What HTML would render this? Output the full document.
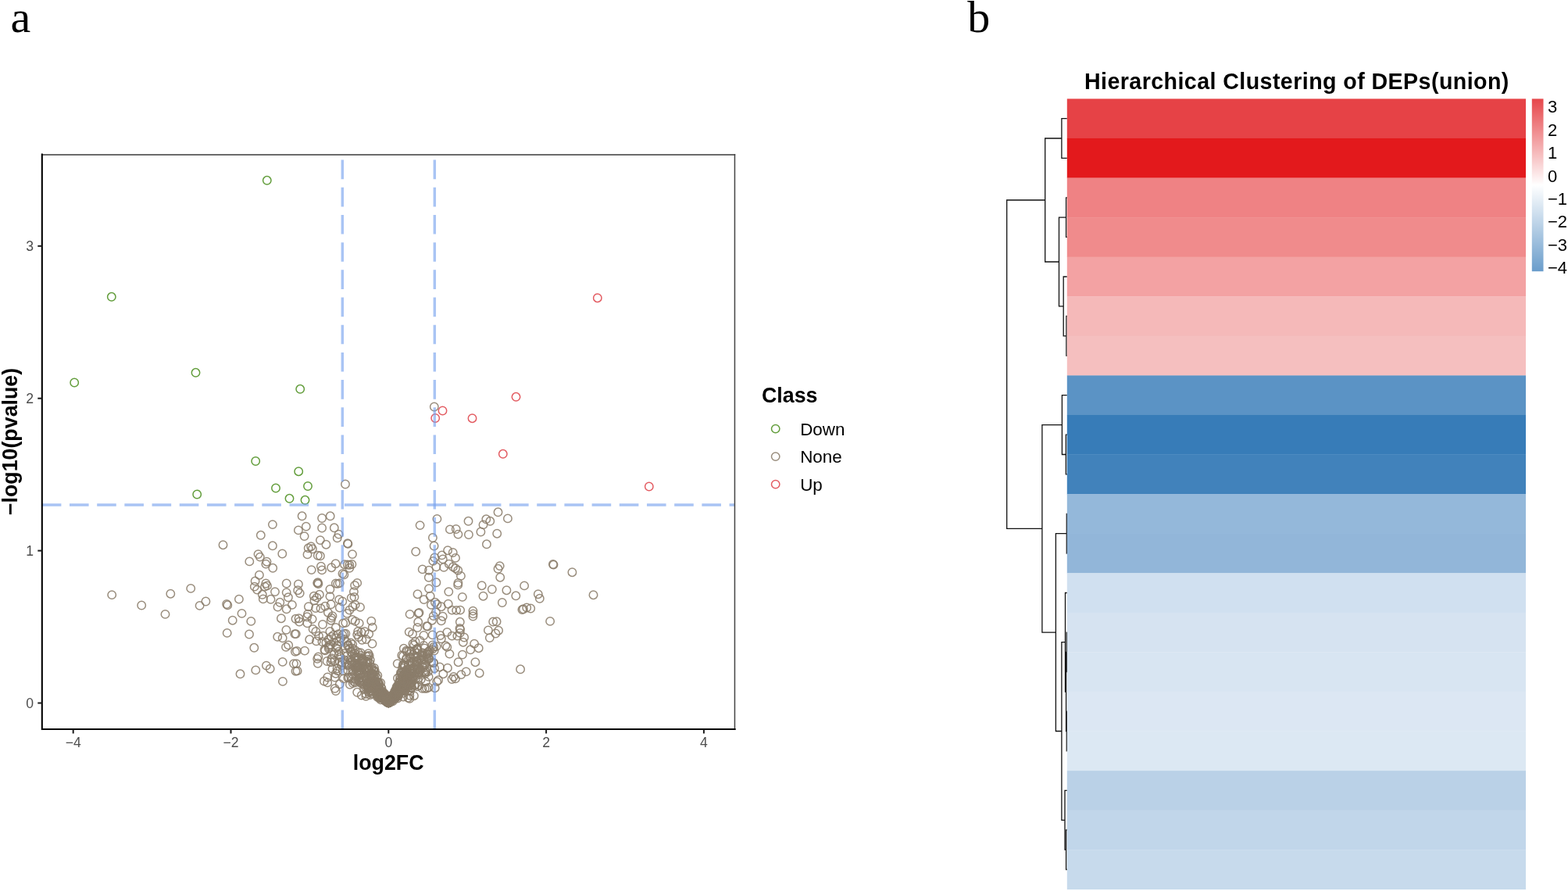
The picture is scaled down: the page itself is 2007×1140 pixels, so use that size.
<!DOCTYPE html>
<html lang="en">
<head>
<meta charset="utf-8">
<title>Volcano plot and hierarchical clustering of DEPs</title>
<style>
html,body{margin:0;padding:0;background:#fff;}
body{width:2007px;height:1140px;overflow:hidden;}
svg{display:block;}
text{font-family:"Liberation Sans",Arial,Helvetica,sans-serif;}
.serif{font-family:"Liberation Serif","Times New Roman",serif;}
.tick{font-size:17.6px;fill:#4d4d4d;}
.axt{font-size:26.8px;font-weight:bold;fill:#000;}
.leg{font-size:22.4px;fill:#000;}
.cb{font-size:22px;fill:#000;}
.p circle{fill:none;stroke-width:1.5;stroke-opacity:0.88;}
</style>
</head>
<body>
<svg width="2007" height="1140" viewBox="0 0 2007 1140">
<rect x="0" y="0" width="2007" height="1140" fill="#fff"/>
<text class="serif" x="13.4" y="41.3" font-size="58">a</text>
<text class="serif" x="1238.3" y="41.2" font-size="58">b</text>
<g id="volcano">
<g class="p" id="pts-none" stroke="#8b7d6b">
<circle cx="456.5" cy="859.4" r="5.2"/><circle cx="502.6" cy="892.7" r="5.2"/><circle cx="502.6" cy="894.6" r="5.2"/><circle cx="507.1" cy="892.1" r="5.2"/><circle cx="496.2" cy="898" r="5.2"/><circle cx="499.6" cy="896.6" r="5.2"/>
<circle cx="485.5" cy="882.5" r="5.2"/><circle cx="471.7" cy="885.2" r="5.2"/><circle cx="492.9" cy="893.3" r="5.2"/><circle cx="472.6" cy="878" r="5.2"/><circle cx="537.4" cy="857.8" r="5.2"/><circle cx="502.5" cy="892.8" r="5.2"/>
<circle cx="532.4" cy="868" r="5.2"/><circle cx="513.6" cy="883.3" r="5.2"/><circle cx="475.1" cy="873.1" r="5.2"/><circle cx="483.8" cy="879.3" r="5.2"/><circle cx="497.2" cy="899.4" r="5.2"/><circle cx="530.5" cy="832.6" r="5.2"/>
<circle cx="496.3" cy="898.5" r="5.2"/><circle cx="459.2" cy="840.7" r="5.2"/><circle cx="515" cy="864.8" r="5.2"/><circle cx="493.3" cy="894.8" r="5.2"/><circle cx="477.1" cy="862.7" r="5.2"/><circle cx="475.1" cy="883.5" r="5.2"/>
<circle cx="468.3" cy="887.7" r="5.2"/><circle cx="463.7" cy="845.7" r="5.2"/><circle cx="493.4" cy="894" r="5.2"/><circle cx="517.1" cy="859.5" r="5.2"/><circle cx="480.2" cy="863.1" r="5.2"/><circle cx="542.8" cy="860.5" r="5.2"/>
<circle cx="454.2" cy="848.2" r="5.2"/><circle cx="502.1" cy="895.9" r="5.2"/><circle cx="445" cy="851.3" r="5.2"/><circle cx="493.9" cy="897.1" r="5.2"/><circle cx="503.6" cy="891.9" r="5.2"/><circle cx="496.7" cy="898.5" r="5.2"/>
<circle cx="521.4" cy="856.8" r="5.2"/><circle cx="510.5" cy="876.3" r="5.2"/><circle cx="533.6" cy="845.7" r="5.2"/><circle cx="525.1" cy="874.6" r="5.2"/><circle cx="490.3" cy="892.1" r="5.2"/><circle cx="502.4" cy="891.7" r="5.2"/>
<circle cx="506.6" cy="885.9" r="5.2"/><circle cx="524.9" cy="884.4" r="5.2"/><circle cx="435.6" cy="840.4" r="5.2"/><circle cx="466" cy="881.9" r="5.2"/><circle cx="495.7" cy="897.7" r="5.2"/><circle cx="501.9" cy="892.3" r="5.2"/>
<circle cx="544.6" cy="859.4" r="5.2"/><circle cx="525" cy="874.3" r="5.2"/><circle cx="451.5" cy="856.3" r="5.2"/><circle cx="480" cy="869" r="5.2"/><circle cx="522.9" cy="849.6" r="5.2"/><circle cx="534.6" cy="849.2" r="5.2"/>
<circle cx="484.6" cy="873.6" r="5.2"/><circle cx="522.8" cy="863.7" r="5.2"/><circle cx="468.9" cy="855.4" r="5.2"/><circle cx="470.7" cy="843.7" r="5.2"/><circle cx="505.9" cy="889.6" r="5.2"/><circle cx="506.6" cy="888.7" r="5.2"/>
<circle cx="489" cy="892.9" r="5.2"/><circle cx="527.4" cy="867.8" r="5.2"/><circle cx="527.7" cy="866.2" r="5.2"/><circle cx="540.5" cy="835.2" r="5.2"/><circle cx="476.6" cy="865.9" r="5.2"/><circle cx="498.4" cy="898.6" r="5.2"/>
<circle cx="506.3" cy="890.5" r="5.2"/><circle cx="495.2" cy="897.1" r="5.2"/><circle cx="448.9" cy="822.4" r="5.2"/><circle cx="489.9" cy="892.6" r="5.2"/><circle cx="470.7" cy="847.3" r="5.2"/><circle cx="515.7" cy="872.4" r="5.2"/>
<circle cx="515.5" cy="882.6" r="5.2"/><circle cx="478.6" cy="863.6" r="5.2"/><circle cx="474.6" cy="863.7" r="5.2"/><circle cx="525.4" cy="869.5" r="5.2"/><circle cx="518.8" cy="876.7" r="5.2"/><circle cx="438.3" cy="812.4" r="5.2"/>
<circle cx="518.3" cy="883.4" r="5.2"/><circle cx="466.1" cy="870.4" r="5.2"/><circle cx="508.4" cy="880.1" r="5.2"/><circle cx="464.1" cy="846.2" r="5.2"/><circle cx="494.3" cy="897.6" r="5.2"/><circle cx="544.6" cy="837.7" r="5.2"/>
<circle cx="446.9" cy="850.8" r="5.2"/><circle cx="525.9" cy="871.4" r="5.2"/><circle cx="445.2" cy="867.2" r="5.2"/><circle cx="471.2" cy="880.7" r="5.2"/><circle cx="451.3" cy="836.7" r="5.2"/><circle cx="485.6" cy="882.2" r="5.2"/>
<circle cx="488.4" cy="880.5" r="5.2"/><circle cx="441.3" cy="844.5" r="5.2"/><circle cx="520.8" cy="876.2" r="5.2"/><circle cx="491.9" cy="893.3" r="5.2"/><circle cx="474.5" cy="865.6" r="5.2"/><circle cx="521.4" cy="867.8" r="5.2"/>
<circle cx="536.9" cy="843.6" r="5.2"/><circle cx="445.4" cy="858.1" r="5.2"/><circle cx="463.1" cy="871.1" r="5.2"/><circle cx="437.1" cy="851.3" r="5.2"/><circle cx="483.6" cy="872.6" r="5.2"/><circle cx="538.1" cy="857" r="5.2"/>
<circle cx="456.9" cy="850.8" r="5.2"/><circle cx="460.5" cy="862.6" r="5.2"/><circle cx="488" cy="884.2" r="5.2"/><circle cx="485.2" cy="893.1" r="5.2"/><circle cx="513" cy="884.8" r="5.2"/><circle cx="460.3" cy="858.5" r="5.2"/>
<circle cx="471" cy="873.6" r="5.2"/><circle cx="501.1" cy="895.8" r="5.2"/><circle cx="436.4" cy="816.4" r="5.2"/><circle cx="555.1" cy="847.9" r="5.2"/><circle cx="460" cy="867.3" r="5.2"/><circle cx="501.8" cy="894.7" r="5.2"/>
<circle cx="515.1" cy="868.9" r="5.2"/><circle cx="507.5" cy="885.5" r="5.2"/><circle cx="523.6" cy="865.1" r="5.2"/><circle cx="498.8" cy="898.2" r="5.2"/><circle cx="500.5" cy="893.7" r="5.2"/><circle cx="531.3" cy="876.9" r="5.2"/>
<circle cx="508" cy="878.3" r="5.2"/><circle cx="441" cy="817.9" r="5.2"/><circle cx="500.6" cy="896.1" r="5.2"/><circle cx="495" cy="897.4" r="5.2"/><circle cx="546.8" cy="837" r="5.2"/><circle cx="515.8" cy="851.7" r="5.2"/>
<circle cx="458.3" cy="870" r="5.2"/><circle cx="444.8" cy="825.8" r="5.2"/><circle cx="521.7" cy="863.7" r="5.2"/><circle cx="500.9" cy="893.5" r="5.2"/><circle cx="487.2" cy="873.6" r="5.2"/><circle cx="522.2" cy="883.7" r="5.2"/>
<circle cx="534.4" cy="839.9" r="5.2"/><circle cx="500" cy="896.7" r="5.2"/><circle cx="481.1" cy="878.9" r="5.2"/><circle cx="509.3" cy="888.3" r="5.2"/><circle cx="460.7" cy="862.9" r="5.2"/><circle cx="466.1" cy="876.1" r="5.2"/>
<circle cx="503.1" cy="894.9" r="5.2"/><circle cx="558.6" cy="827.1" r="5.2"/><circle cx="516.1" cy="839.3" r="5.2"/><circle cx="468.9" cy="839.8" r="5.2"/><circle cx="529.7" cy="864.6" r="5.2"/><circle cx="426.9" cy="812.5" r="5.2"/>
<circle cx="528.4" cy="823.7" r="5.2"/><circle cx="522.5" cy="871.3" r="5.2"/><circle cx="455.1" cy="841.9" r="5.2"/><circle cx="542.5" cy="842.8" r="5.2"/><circle cx="533.9" cy="847.8" r="5.2"/><circle cx="468.5" cy="849" r="5.2"/>
<circle cx="490" cy="892.3" r="5.2"/><circle cx="505" cy="892.3" r="5.2"/><circle cx="492.7" cy="892.2" r="5.2"/><circle cx="516.5" cy="876.1" r="5.2"/><circle cx="515.6" cy="869.2" r="5.2"/><circle cx="490.7" cy="888.4" r="5.2"/>
<circle cx="505.1" cy="884.5" r="5.2"/><circle cx="478.6" cy="873.1" r="5.2"/><circle cx="449.6" cy="846.6" r="5.2"/><circle cx="483.2" cy="886" r="5.2"/><circle cx="520.8" cy="863.2" r="5.2"/><circle cx="457" cy="841.5" r="5.2"/>
<circle cx="484.4" cy="876" r="5.2"/><circle cx="483.8" cy="884.8" r="5.2"/><circle cx="447.6" cy="829.7" r="5.2"/><circle cx="490.6" cy="885.8" r="5.2"/><circle cx="498.5" cy="898.6" r="5.2"/><circle cx="555.1" cy="827.8" r="5.2"/>
<circle cx="500.6" cy="895.5" r="5.2"/><circle cx="469.5" cy="877.1" r="5.2"/><circle cx="491.1" cy="887.8" r="5.2"/><circle cx="462.9" cy="846.3" r="5.2"/><circle cx="454.3" cy="848.9" r="5.2"/><circle cx="531.3" cy="856.5" r="5.2"/>
<circle cx="471.6" cy="881" r="5.2"/><circle cx="533.7" cy="830.1" r="5.2"/><circle cx="486.4" cy="882.4" r="5.2"/><circle cx="466.2" cy="855.5" r="5.2"/><circle cx="506.3" cy="886.4" r="5.2"/><circle cx="424.6" cy="844" r="5.2"/>
<circle cx="536" cy="861.2" r="5.2"/><circle cx="522.6" cy="866.2" r="5.2"/><circle cx="489.9" cy="893.5" r="5.2"/><circle cx="488.2" cy="887" r="5.2"/><circle cx="506.5" cy="882.9" r="5.2"/><circle cx="520.4" cy="842" r="5.2"/>
<circle cx="515" cy="854.9" r="5.2"/><circle cx="521.8" cy="875.8" r="5.2"/><circle cx="474.8" cy="868.5" r="5.2"/><circle cx="511.8" cy="884.9" r="5.2"/><circle cx="472" cy="878.9" r="5.2"/><circle cx="497.1" cy="899.2" r="5.2"/>
<circle cx="518.2" cy="872.5" r="5.2"/><circle cx="504.2" cy="893.5" r="5.2"/><circle cx="519.2" cy="859" r="5.2"/><circle cx="458.2" cy="807.9" r="5.2"/><circle cx="498.2" cy="898.6" r="5.2"/><circle cx="499.2" cy="898.2" r="5.2"/>
<circle cx="496.6" cy="899.1" r="5.2"/><circle cx="516" cy="850" r="5.2"/><circle cx="513.7" cy="861" r="5.2"/><circle cx="546.1" cy="854" r="5.2"/><circle cx="471.4" cy="872.9" r="5.2"/><circle cx="518.7" cy="869.9" r="5.2"/>
<circle cx="506.8" cy="887.9" r="5.2"/><circle cx="458.4" cy="834.8" r="5.2"/><circle cx="473.8" cy="844.5" r="5.2"/><circle cx="533.9" cy="835.7" r="5.2"/><circle cx="492.5" cy="891.5" r="5.2"/><circle cx="528.9" cy="837.4" r="5.2"/>
<circle cx="435" cy="846.9" r="5.2"/><circle cx="474.9" cy="865.6" r="5.2"/><circle cx="448.7" cy="844.8" r="5.2"/><circle cx="441.9" cy="847.3" r="5.2"/><circle cx="432" cy="858.4" r="5.2"/><circle cx="491.7" cy="891.8" r="5.2"/>
<circle cx="498.7" cy="897" r="5.2"/><circle cx="485.9" cy="881.9" r="5.2"/><circle cx="525" cy="836.8" r="5.2"/><circle cx="512.5" cy="877.2" r="5.2"/><circle cx="536.2" cy="860.3" r="5.2"/><circle cx="539" cy="844.8" r="5.2"/>
<circle cx="482" cy="876.9" r="5.2"/><circle cx="472.1" cy="881.8" r="5.2"/><circle cx="486.1" cy="891.3" r="5.2"/><circle cx="443" cy="849.6" r="5.2"/><circle cx="555.7" cy="832.6" r="5.2"/><circle cx="512.1" cy="878.2" r="5.2"/>
<circle cx="497" cy="899.2" r="5.2"/><circle cx="515" cy="866" r="5.2"/><circle cx="522.2" cy="866.2" r="5.2"/><circle cx="459.8" cy="853.1" r="5.2"/><circle cx="508.8" cy="884.4" r="5.2"/><circle cx="487.4" cy="878.9" r="5.2"/>
<circle cx="433.8" cy="837.9" r="5.2"/><circle cx="485" cy="884.5" r="5.2"/><circle cx="523.8" cy="863.8" r="5.2"/><circle cx="451.2" cy="824.5" r="5.2"/><circle cx="508.8" cy="893.6" r="5.2"/><circle cx="479" cy="873.9" r="5.2"/>
<circle cx="546.6" cy="836.7" r="5.2"/><circle cx="470.9" cy="878.6" r="5.2"/><circle cx="480" cy="879.7" r="5.2"/><circle cx="528.9" cy="854.8" r="5.2"/><circle cx="516.6" cy="867.8" r="5.2"/><circle cx="531.2" cy="865.8" r="5.2"/>
<circle cx="497.8" cy="898.6" r="5.2"/><circle cx="490.8" cy="889.5" r="5.2"/><circle cx="498.4" cy="897.6" r="5.2"/><circle cx="533.1" cy="850.7" r="5.2"/><circle cx="456.6" cy="853.7" r="5.2"/><circle cx="547.8" cy="859.2" r="5.2"/>
<circle cx="454" cy="835.8" r="5.2"/><circle cx="517.9" cy="852.8" r="5.2"/><circle cx="460.6" cy="873" r="5.2"/><circle cx="530.2" cy="876.7" r="5.2"/><circle cx="511.2" cy="876.2" r="5.2"/><circle cx="481.5" cy="879.6" r="5.2"/>
<circle cx="473.3" cy="848.7" r="5.2"/><circle cx="520.3" cy="856.8" r="5.2"/><circle cx="509" cy="867.7" r="5.2"/><circle cx="518.1" cy="875.3" r="5.2"/><circle cx="488.7" cy="889.6" r="5.2"/><circle cx="501.3" cy="895.2" r="5.2"/>
<circle cx="459.1" cy="815" r="5.2"/><circle cx="488.7" cy="889" r="5.2"/><circle cx="431.5" cy="855.3" r="5.2"/><circle cx="493.3" cy="895.7" r="5.2"/><circle cx="543.1" cy="850.4" r="5.2"/><circle cx="457.9" cy="853.6" r="5.2"/>
<circle cx="518.5" cy="851" r="5.2"/><circle cx="509.2" cy="886.3" r="5.2"/><circle cx="502.6" cy="893.9" r="5.2"/><circle cx="496.1" cy="898.3" r="5.2"/><circle cx="533.9" cy="855.5" r="5.2"/><circle cx="483.4" cy="890.1" r="5.2"/>
<circle cx="494.6" cy="897.9" r="5.2"/><circle cx="526.7" cy="866.8" r="5.2"/><circle cx="502.2" cy="894.7" r="5.2"/><circle cx="473.7" cy="889.1" r="5.2"/><circle cx="530" cy="825.5" r="5.2"/><circle cx="461.6" cy="835.1" r="5.2"/>
<circle cx="497.3" cy="899.4" r="5.2"/><circle cx="493.8" cy="894.2" r="5.2"/><circle cx="462.1" cy="838.8" r="5.2"/><circle cx="487.4" cy="895.2" r="5.2"/><circle cx="540.7" cy="850.2" r="5.2"/><circle cx="475.5" cy="884.1" r="5.2"/>
<circle cx="518.2" cy="872.4" r="5.2"/><circle cx="533.3" cy="853.1" r="5.2"/><circle cx="433.7" cy="833.6" r="5.2"/><circle cx="424.5" cy="842.1" r="5.2"/><circle cx="507.5" cy="890.5" r="5.2"/><circle cx="543.3" cy="850.4" r="5.2"/>
<circle cx="518" cy="884.4" r="5.2"/><circle cx="545.1" cy="860" r="5.2"/><circle cx="530.3" cy="847" r="5.2"/><circle cx="492.7" cy="892.7" r="5.2"/><circle cx="550.1" cy="832.2" r="5.2"/><circle cx="517.5" cy="873.9" r="5.2"/>
<circle cx="518.4" cy="878.1" r="5.2"/><circle cx="497" cy="899.3" r="5.2"/><circle cx="512.1" cy="864.7" r="5.2"/><circle cx="496.4" cy="898.7" r="5.2"/><circle cx="512.9" cy="860.7" r="5.2"/><circle cx="520.5" cy="867.2" r="5.2"/>
<circle cx="531.5" cy="821" r="5.2"/><circle cx="492.8" cy="896.2" r="5.2"/><circle cx="479.1" cy="859.7" r="5.2"/><circle cx="530.9" cy="860.5" r="5.2"/><circle cx="475.3" cy="880.3" r="5.2"/><circle cx="498" cy="898.3" r="5.2"/>
<circle cx="463.6" cy="846.4" r="5.2"/><circle cx="469.8" cy="878.6" r="5.2"/><circle cx="489.8" cy="888.2" r="5.2"/><circle cx="511" cy="885.9" r="5.2"/><circle cx="533.1" cy="840.4" r="5.2"/><circle cx="460.5" cy="856.9" r="5.2"/>
<circle cx="500" cy="896.2" r="5.2"/><circle cx="476.7" cy="887.7" r="5.2"/><circle cx="517.3" cy="875.2" r="5.2"/><circle cx="508.1" cy="887.8" r="5.2"/><circle cx="474.3" cy="872.5" r="5.2"/><circle cx="474.9" cy="878.8" r="5.2"/>
<circle cx="519.7" cy="875.3" r="5.2"/><circle cx="513" cy="874.8" r="5.2"/><circle cx="497.6" cy="899.2" r="5.2"/><circle cx="488.2" cy="892.9" r="5.2"/><circle cx="444.1" cy="839.4" r="5.2"/><circle cx="455.5" cy="854.7" r="5.2"/>
<circle cx="515.5" cy="877.6" r="5.2"/><circle cx="518" cy="861.9" r="5.2"/><circle cx="518.5" cy="860.5" r="5.2"/><circle cx="488.6" cy="890.9" r="5.2"/><circle cx="500.9" cy="895.2" r="5.2"/><circle cx="527.6" cy="862.4" r="5.2"/>
<circle cx="475.3" cy="856.2" r="5.2"/><circle cx="516.9" cy="850.9" r="5.2"/><circle cx="451" cy="868.6" r="5.2"/><circle cx="502.6" cy="897.3" r="5.2"/><circle cx="421" cy="827.9" r="5.2"/><circle cx="469.3" cy="870.6" r="5.2"/>
<circle cx="503" cy="894.1" r="5.2"/><circle cx="427.6" cy="837.3" r="5.2"/><circle cx="548.8" cy="842.3" r="5.2"/><circle cx="526.7" cy="833.2" r="5.2"/><circle cx="462.4" cy="867.2" r="5.2"/><circle cx="449" cy="833.8" r="5.2"/>
<circle cx="513.9" cy="881.3" r="5.2"/><circle cx="517.9" cy="879.8" r="5.2"/><circle cx="428.4" cy="845.7" r="5.2"/><circle cx="517.7" cy="880.4" r="5.2"/><circle cx="475.2" cy="861.3" r="5.2"/><circle cx="485.7" cy="884.1" r="5.2"/>
<circle cx="476.7" cy="861.6" r="5.2"/><circle cx="440.6" cy="836.1" r="5.2"/><circle cx="489.1" cy="885" r="5.2"/><circle cx="547.9" cy="834.4" r="5.2"/><circle cx="451.4" cy="829.7" r="5.2"/><circle cx="457.6" cy="853.6" r="5.2"/>
<circle cx="523.9" cy="877.7" r="5.2"/><circle cx="463.4" cy="818.8" r="5.2"/><circle cx="457.2" cy="854.8" r="5.2"/><circle cx="498.2" cy="898.4" r="5.2"/><circle cx="527.4" cy="873.1" r="5.2"/><circle cx="520.2" cy="832.4" r="5.2"/>
<circle cx="491.9" cy="890.9" r="5.2"/><circle cx="502" cy="893.7" r="5.2"/><circle cx="518.3" cy="883.2" r="5.2"/><circle cx="544.2" cy="862" r="5.2"/><circle cx="458.9" cy="854.4" r="5.2"/><circle cx="500.8" cy="896.8" r="5.2"/>
<circle cx="505.5" cy="891.6" r="5.2"/><circle cx="521" cy="878" r="5.2"/><circle cx="465" cy="871.4" r="5.2"/><circle cx="470.9" cy="839.3" r="5.2"/><circle cx="526" cy="846.1" r="5.2"/><circle cx="474.2" cy="884.9" r="5.2"/>
<circle cx="464.6" cy="848.2" r="5.2"/><circle cx="484.6" cy="884.6" r="5.2"/><circle cx="522.2" cy="862.7" r="5.2"/><circle cx="505.7" cy="893.9" r="5.2"/><circle cx="495.8" cy="898.2" r="5.2"/><circle cx="454.3" cy="852.8" r="5.2"/>
<circle cx="510.8" cy="885.6" r="5.2"/><circle cx="492" cy="890.9" r="5.2"/><circle cx="458.2" cy="851.5" r="5.2"/><circle cx="421.2" cy="825.8" r="5.2"/><circle cx="482.1" cy="867" r="5.2"/><circle cx="520.8" cy="875.5" r="5.2"/>
<circle cx="525.2" cy="848.4" r="5.2"/><circle cx="534.4" cy="878.4" r="5.2"/><circle cx="500.5" cy="896.2" r="5.2"/><circle cx="492.4" cy="894.4" r="5.2"/><circle cx="493.7" cy="895.5" r="5.2"/><circle cx="441.9" cy="829.4" r="5.2"/>
<circle cx="481.2" cy="875" r="5.2"/><circle cx="553.7" cy="830.6" r="5.2"/><circle cx="482" cy="887.1" r="5.2"/><circle cx="509.5" cy="881.9" r="5.2"/><circle cx="420.5" cy="818.3" r="5.2"/><circle cx="469.2" cy="868.9" r="5.2"/>
<circle cx="492.5" cy="892.8" r="5.2"/><circle cx="434.2" cy="820.7" r="5.2"/><circle cx="503.5" cy="888.1" r="5.2"/><circle cx="473.3" cy="858" r="5.2"/><circle cx="451.1" cy="862.3" r="5.2"/><circle cx="526.1" cy="880.2" r="5.2"/>
<circle cx="458.6" cy="858.7" r="5.2"/><circle cx="460.4" cy="851.3" r="5.2"/><circle cx="442.4" cy="810.6" r="5.2"/><circle cx="480.6" cy="879.5" r="5.2"/><circle cx="468.7" cy="818.1" r="5.2"/><circle cx="471.5" cy="858.5" r="5.2"/>
<circle cx="499.5" cy="897.2" r="5.2"/><circle cx="513.9" cy="884.1" r="5.2"/><circle cx="429.7" cy="861.7" r="5.2"/><circle cx="514.8" cy="860.5" r="5.2"/><circle cx="511.7" cy="872.3" r="5.2"/><circle cx="540.9" cy="852.6" r="5.2"/>
<circle cx="531.5" cy="841.3" r="5.2"/><circle cx="500.6" cy="893.2" r="5.2"/><circle cx="507" cy="892.5" r="5.2"/><circle cx="507.4" cy="879.8" r="5.2"/><circle cx="493" cy="895.3" r="5.2"/><circle cx="523.7" cy="856.6" r="5.2"/>
<circle cx="427.2" cy="821.9" r="5.2"/><circle cx="493.3" cy="895" r="5.2"/><circle cx="527.1" cy="879.4" r="5.2"/><circle cx="451.4" cy="858.2" r="5.2"/><circle cx="455.6" cy="840.6" r="5.2"/><circle cx="471.7" cy="856" r="5.2"/>
<circle cx="483.2" cy="889.6" r="5.2"/><circle cx="493.3" cy="894.7" r="5.2"/><circle cx="519.8" cy="843.8" r="5.2"/><circle cx="454.8" cy="832.1" r="5.2"/><circle cx="474.2" cy="878.8" r="5.2"/><circle cx="489.9" cy="887.2" r="5.2"/>
<circle cx="492.5" cy="891.1" r="5.2"/><circle cx="517.7" cy="880.9" r="5.2"/><circle cx="463.9" cy="852.5" r="5.2"/><circle cx="453.8" cy="841.9" r="5.2"/><circle cx="463.5" cy="859.7" r="5.2"/><circle cx="495.8" cy="897.4" r="5.2"/>
<circle cx="431.4" cy="826.5" r="5.2"/><circle cx="513.1" cy="878.4" r="5.2"/><circle cx="497.9" cy="898.4" r="5.2"/><circle cx="494.5" cy="895.5" r="5.2"/><circle cx="538.7" cy="869.4" r="5.2"/><circle cx="494.9" cy="897.4" r="5.2"/>
<circle cx="437.8" cy="847.5" r="5.2"/><circle cx="510.4" cy="873.8" r="5.2"/><circle cx="497.4" cy="899.5" r="5.2"/><circle cx="475.7" cy="874.3" r="5.2"/><circle cx="513.2" cy="884.5" r="5.2"/><circle cx="457.2" cy="812.1" r="5.2"/>
<circle cx="483.3" cy="864.3" r="5.2"/><circle cx="475.2" cy="875.2" r="5.2"/><circle cx="443.9" cy="821.6" r="5.2"/><circle cx="479.9" cy="873.7" r="5.2"/><circle cx="498.4" cy="898.1" r="5.2"/><circle cx="485" cy="879.7" r="5.2"/>
<circle cx="523.9" cy="874.4" r="5.2"/><circle cx="531.5" cy="859.9" r="5.2"/><circle cx="508.2" cy="887.4" r="5.2"/><circle cx="532.6" cy="846.9" r="5.2"/><circle cx="537.5" cy="819.7" r="5.2"/><circle cx="486.4" cy="888.6" r="5.2"/>
<circle cx="468.3" cy="846.5" r="5.2"/><circle cx="534.4" cy="829.8" r="5.2"/><circle cx="458.1" cy="841.8" r="5.2"/><circle cx="544.7" cy="849.5" r="5.2"/><circle cx="512.2" cy="883.7" r="5.2"/><circle cx="549.2" cy="842.7" r="5.2"/>
<circle cx="505.9" cy="887.3" r="5.2"/><circle cx="452.5" cy="871.6" r="5.2"/><circle cx="517.8" cy="880.5" r="5.2"/><circle cx="527.5" cy="847.5" r="5.2"/><circle cx="536" cy="854.8" r="5.2"/><circle cx="497.1" cy="899.2" r="5.2"/>
<circle cx="475.8" cy="854" r="5.2"/><circle cx="483.7" cy="873.3" r="5.2"/><circle cx="491.9" cy="894.8" r="5.2"/><circle cx="526.4" cy="862" r="5.2"/><circle cx="521.1" cy="878.2" r="5.2"/><circle cx="506.9" cy="882.1" r="5.2"/>
<circle cx="534.7" cy="869.1" r="5.2"/><circle cx="542.4" cy="826" r="5.2"/><circle cx="476.6" cy="862" r="5.2"/><circle cx="499.2" cy="898.2" r="5.2"/><circle cx="470.2" cy="846.4" r="5.2"/><circle cx="485" cy="879.6" r="5.2"/>
<circle cx="516.2" cy="865.2" r="5.2"/><circle cx="423.5" cy="824.8" r="5.2"/><circle cx="492.6" cy="889.9" r="5.2"/><circle cx="484.9" cy="884.4" r="5.2"/><circle cx="493.3" cy="895.4" r="5.2"/><circle cx="492.9" cy="896.8" r="5.2"/>
<circle cx="534.5" cy="856.7" r="5.2"/><circle cx="487.4" cy="884.6" r="5.2"/><circle cx="554.9" cy="848.2" r="5.2"/><circle cx="499.5" cy="896.7" r="5.2"/><circle cx="509.3" cy="886.6" r="5.2"/><circle cx="480" cy="884.4" r="5.2"/>
<circle cx="526.3" cy="880.1" r="5.2"/><circle cx="495.7" cy="898.3" r="5.2"/><circle cx="510.1" cy="889.9" r="5.2"/><circle cx="459.8" cy="871" r="5.2"/><circle cx="490.4" cy="891.7" r="5.2"/><circle cx="483" cy="891.7" r="5.2"/>
<circle cx="500.8" cy="894.9" r="5.2"/><circle cx="508.7" cy="885.8" r="5.2"/><circle cx="536.3" cy="876.9" r="5.2"/><circle cx="424.1" cy="814.6" r="5.2"/><circle cx="525.3" cy="841.1" r="5.2"/><circle cx="415.4" cy="831.3" r="5.2"/>
<circle cx="512.3" cy="872.5" r="5.2"/><circle cx="458.7" cy="861.7" r="5.2"/><circle cx="511.6" cy="877.1" r="5.2"/><circle cx="492.3" cy="888.9" r="5.2"/><circle cx="502" cy="891.9" r="5.2"/><circle cx="526.1" cy="877" r="5.2"/>
<circle cx="498.7" cy="897.7" r="5.2"/><circle cx="539.3" cy="843.5" r="5.2"/><circle cx="549" cy="842.8" r="5.2"/><circle cx="524.7" cy="873.9" r="5.2"/><circle cx="504.3" cy="887.9" r="5.2"/><circle cx="480.9" cy="872" r="5.2"/>
<circle cx="524.3" cy="889.8" r="5.2"/><circle cx="534.8" cy="860.3" r="5.2"/><circle cx="484.1" cy="880.8" r="5.2"/><circle cx="496.9" cy="898.9" r="5.2"/><circle cx="433.3" cy="811.1" r="5.2"/><circle cx="476.4" cy="875.4" r="5.2"/>
<circle cx="485" cy="891.6" r="5.2"/><circle cx="446.6" cy="866.8" r="5.2"/><circle cx="474.7" cy="886.1" r="5.2"/><circle cx="543.3" cy="847.5" r="5.2"/><circle cx="510.1" cy="889.4" r="5.2"/><circle cx="546.7" cy="840.2" r="5.2"/>
<circle cx="496.5" cy="898.6" r="5.2"/><circle cx="496.8" cy="899" r="5.2"/><circle cx="552.2" cy="847.4" r="5.2"/><circle cx="463" cy="874.7" r="5.2"/><circle cx="534.5" cy="831.8" r="5.2"/><circle cx="519" cy="874.1" r="5.2"/>
<circle cx="521.7" cy="869.7" r="5.2"/><circle cx="462.5" cy="809" r="5.2"/><circle cx="497.6" cy="899.2" r="5.2"/><circle cx="484.2" cy="890" r="5.2"/><circle cx="449.5" cy="866.8" r="5.2"/><circle cx="484" cy="874" r="5.2"/>
<circle cx="472.7" cy="839" r="5.2"/><circle cx="463.5" cy="842.9" r="5.2"/><circle cx="467.6" cy="879.1" r="5.2"/><circle cx="471.5" cy="836.3" r="5.2"/><circle cx="511.9" cy="869.3" r="5.2"/><circle cx="477.9" cy="857.2" r="5.2"/>
<circle cx="464" cy="867.4" r="5.2"/><circle cx="516.2" cy="891.5" r="5.2"/><circle cx="541.2" cy="854.5" r="5.2"/><circle cx="506.3" cy="889.4" r="5.2"/><circle cx="516.1" cy="886.9" r="5.2"/><circle cx="438.9" cy="858.2" r="5.2"/>
<circle cx="445.7" cy="825.3" r="5.2"/><circle cx="491.7" cy="894.6" r="5.2"/><circle cx="541.3" cy="839.1" r="5.2"/><circle cx="490.9" cy="892.7" r="5.2"/><circle cx="420.7" cy="829.7" r="5.2"/><circle cx="481.6" cy="875.9" r="5.2"/>
<circle cx="516.5" cy="872.5" r="5.2"/><circle cx="540.2" cy="837.8" r="5.2"/><circle cx="494.8" cy="895" r="5.2"/><circle cx="476.8" cy="879.5" r="5.2"/><circle cx="499.8" cy="897.8" r="5.2"/><circle cx="469.7" cy="866.5" r="5.2"/>
<circle cx="498.2" cy="898.6" r="5.2"/><circle cx="481.4" cy="874.7" r="5.2"/><circle cx="432.1" cy="826.5" r="5.2"/><circle cx="491.8" cy="889.2" r="5.2"/><circle cx="471" cy="860.9" r="5.2"/><circle cx="523.6" cy="833.1" r="5.2"/>
<circle cx="497.6" cy="899.2" r="5.2"/><circle cx="508.8" cy="883.5" r="5.2"/><circle cx="487.8" cy="891.6" r="5.2"/><circle cx="498.9" cy="897.3" r="5.2"/><circle cx="520" cy="860.8" r="5.2"/><circle cx="456.9" cy="857.3" r="5.2"/>
<circle cx="469.4" cy="874" r="5.2"/><circle cx="505" cy="890.3" r="5.2"/><circle cx="509.2" cy="884.1" r="5.2"/><circle cx="466.6" cy="856" r="5.2"/><circle cx="461" cy="854.2" r="5.2"/><circle cx="487.5" cy="893.2" r="5.2"/>
<circle cx="543.4" cy="829.5" r="5.2"/><circle cx="520.9" cy="833.8" r="5.2"/><circle cx="499.1" cy="898.5" r="5.2"/><circle cx="465.4" cy="844.3" r="5.2"/><circle cx="470.6" cy="853.8" r="5.2"/><circle cx="462.8" cy="872.9" r="5.2"/>
<circle cx="485" cy="874.4" r="5.2"/><circle cx="477.1" cy="872.5" r="5.2"/><circle cx="497.5" cy="899.3" r="5.2"/><circle cx="523.1" cy="851.4" r="5.2"/><circle cx="492.9" cy="887.9" r="5.2"/><circle cx="455.5" cy="869.5" r="5.2"/>
<circle cx="504.2" cy="890.5" r="5.2"/><circle cx="501.6" cy="889.8" r="5.2"/><circle cx="516.4" cy="878.9" r="5.2"/><circle cx="440.3" cy="810.9" r="5.2"/><circle cx="479" cy="854.7" r="5.2"/><circle cx="548.7" cy="833.7" r="5.2"/>
<circle cx="450.6" cy="851.1" r="5.2"/><circle cx="525.2" cy="860.9" r="5.2"/><circle cx="527.8" cy="847.8" r="5.2"/><circle cx="513.3" cy="877.4" r="5.2"/><circle cx="466.1" cy="857.6" r="5.2"/><circle cx="529" cy="854.6" r="5.2"/>
<circle cx="496.2" cy="898.4" r="5.2"/><circle cx="556.1" cy="855.2" r="5.2"/><circle cx="479.8" cy="858.4" r="5.2"/><circle cx="519.1" cy="862.1" r="5.2"/><circle cx="493.3" cy="890.7" r="5.2"/><circle cx="535.2" cy="855.4" r="5.2"/>
<circle cx="536.5" cy="863.1" r="5.2"/><circle cx="469.9" cy="853.4" r="5.2"/><circle cx="453.4" cy="840.2" r="5.2"/><circle cx="495.7" cy="896.5" r="5.2"/><circle cx="485.3" cy="889.4" r="5.2"/><circle cx="548" cy="836.2" r="5.2"/>
<circle cx="430.3" cy="829.2" r="5.2"/><circle cx="555.8" cy="520.5" r="5.2"/><circle cx="442" cy="619.5" r="5.2"/><circle cx="143.2" cy="761.1" r="5.2"/><circle cx="181.2" cy="774.5" r="5.2"/><circle cx="218.3" cy="759.7" r="5.2"/>
<circle cx="244.2" cy="752.9" r="5.2"/><circle cx="263.4" cy="769.5" r="5.2"/><circle cx="255.6" cy="774.9" r="5.2"/><circle cx="285.5" cy="697.2" r="5.2"/><circle cx="290.1" cy="773" r="5.2"/><circle cx="291.3" cy="774.3" r="5.2"/>
<circle cx="305.9" cy="766.6" r="5.2"/><circle cx="319.3" cy="718.4" r="5.2"/><circle cx="333.8" cy="684.8" r="5.2"/><circle cx="348.9" cy="671.1" r="5.2"/><circle cx="348.9" cy="698.3" r="5.2"/><circle cx="330.5" cy="709.1" r="5.2"/>
<circle cx="332.8" cy="712.6" r="5.2"/><circle cx="361.3" cy="708.5" r="5.2"/><circle cx="341.5" cy="718.7" r="5.2"/><circle cx="340.3" cy="721.6" r="5.2"/><circle cx="349.2" cy="726.8" r="5.2"/><circle cx="331.9" cy="735.7" r="5.2"/>
<circle cx="326.6" cy="743.4" r="5.2"/><circle cx="325.8" cy="750.6" r="5.2"/><circle cx="329.1" cy="754.6" r="5.2"/><circle cx="340.3" cy="746.5" r="5.2"/><circle cx="342" cy="749.4" r="5.2"/><circle cx="339" cy="750.6" r="5.2"/>
<circle cx="366.7" cy="746.5" r="5.2"/><circle cx="352" cy="757.1" r="5.2"/><circle cx="335.8" cy="760.8" r="5.2"/><circle cx="336.8" cy="766.4" r="5.2"/><circle cx="346.5" cy="766.8" r="5.2"/><circle cx="366.7" cy="758.1" r="5.2"/>
<circle cx="368.9" cy="764.3" r="5.2"/><circle cx="358.3" cy="770.8" r="5.2"/><circle cx="373.9" cy="773.9" r="5.2"/><circle cx="211.5" cy="785.9" r="5.2"/><circle cx="309.5" cy="784.9" r="5.2"/><circle cx="297.7" cy="793.7" r="5.2"/>
<circle cx="321.3" cy="794.9" r="5.2"/><circle cx="290.7" cy="809.9" r="5.2"/><circle cx="319" cy="811.5" r="5.2"/><circle cx="325.3" cy="828.8" r="5.2"/><circle cx="307.5" cy="862.3" r="5.2"/><circle cx="327.3" cy="857.4" r="5.2"/>
<circle cx="340.9" cy="851.6" r="5.2"/><circle cx="345.7" cy="855.7" r="5.2"/><circle cx="361.7" cy="846.9" r="5.2"/><circle cx="361.9" cy="871.9" r="5.2"/><circle cx="359.9" cy="791.2" r="5.2"/><circle cx="355.5" cy="776.5" r="5.2"/>
<circle cx="366.7" cy="779.3" r="5.2"/><circle cx="366.4" cy="805.9" r="5.2"/><circle cx="355.2" cy="814.8" r="5.2"/><circle cx="361.7" cy="816.3" r="5.2"/><circle cx="369.2" cy="825.4" r="5.2"/><circle cx="366" cy="827.9" r="5.2"/>
<circle cx="377.3" cy="811.1" r="5.2"/><circle cx="377.9" cy="833.8" r="5.2"/><circle cx="376" cy="849.1" r="5.2"/><circle cx="378.5" cy="858.7" r="5.2"/><circle cx="378.5" cy="791.8" r="5.2"/><circle cx="386.6" cy="660.3" r="5.2"/>
<circle cx="412.1" cy="663" r="5.2"/><circle cx="422.7" cy="660.3" r="5.2"/><circle cx="391.8" cy="673.6" r="5.2"/><circle cx="412.1" cy="675.5" r="5.2"/><circle cx="427.8" cy="675.3" r="5.2"/><circle cx="381.9" cy="678.4" r="5.2"/>
<circle cx="433.6" cy="683.6" r="5.2"/><circle cx="389.6" cy="686.1" r="5.2"/><circle cx="431.7" cy="688.3" r="5.2"/><circle cx="409.9" cy="691.1" r="5.2"/><circle cx="417.4" cy="696.7" r="5.2"/><circle cx="444.9" cy="695.2" r="5.2"/>
<circle cx="445.4" cy="695.9" r="5.2"/><circle cx="398.1" cy="699.2" r="5.2"/><circle cx="394.7" cy="701.3" r="5.2"/><circle cx="399.9" cy="702.3" r="5.2"/><circle cx="451" cy="709.1" r="5.2"/><circle cx="393.5" cy="709.4" r="5.2"/>
<circle cx="406.8" cy="710.8" r="5.2"/><circle cx="409.9" cy="711.3" r="5.2"/><circle cx="429.6" cy="721.2" r="5.2"/><circle cx="450.4" cy="722" r="5.2"/><circle cx="441" cy="722.2" r="5.2"/><circle cx="444.8" cy="722.5" r="5.2"/>
<circle cx="447.3" cy="722.8" r="5.2"/><circle cx="410.9" cy="724.7" r="5.2"/><circle cx="424.2" cy="726.2" r="5.2"/><circle cx="447.3" cy="726.8" r="5.2"/><circle cx="398.7" cy="729.1" r="5.2"/><circle cx="412.1" cy="729.4" r="5.2"/>
<circle cx="438.5" cy="734" r="5.2"/><circle cx="440.4" cy="735.3" r="5.2"/><circle cx="406.8" cy="745.3" r="5.2"/><circle cx="407.4" cy="747.1" r="5.2"/><circle cx="406.2" cy="746.1" r="5.2"/><circle cx="457.2" cy="745.9" r="5.2"/>
<circle cx="429.8" cy="746.5" r="5.2"/><circle cx="432.3" cy="746.9" r="5.2"/><circle cx="434.8" cy="746.1" r="5.2"/><circle cx="454.1" cy="749" r="5.2"/><circle cx="381.9" cy="747.4" r="5.2"/><circle cx="422.4" cy="754" r="5.2"/>
<circle cx="381.2" cy="755.2" r="5.2"/><circle cx="452.9" cy="757.1" r="5.2"/><circle cx="383.7" cy="759" r="5.2"/><circle cx="408.9" cy="760.8" r="5.2"/><circle cx="401.8" cy="762.7" r="5.2"/><circle cx="405.5" cy="764.6" r="5.2"/>
<circle cx="422.4" cy="763.1" r="5.2"/><circle cx="453.5" cy="763.9" r="5.2"/><circle cx="449.8" cy="764.9" r="5.2"/><circle cx="402.4" cy="768.3" r="5.2"/><circle cx="434.2" cy="767.1" r="5.2"/><circle cx="438.3" cy="769.5" r="5.2"/>
<circle cx="423.6" cy="773.3" r="5.2"/><circle cx="416.1" cy="775.8" r="5.2"/><circle cx="454.7" cy="773.9" r="5.2"/><circle cx="537.6" cy="672.1" r="5.2"/><circle cx="559.4" cy="663.9" r="5.2"/><circle cx="599.5" cy="666.8" r="5.2"/>
<circle cx="622.3" cy="664.3" r="5.2"/><circle cx="627.3" cy="666.8" r="5.2"/><circle cx="618.5" cy="671.4" r="5.2"/><circle cx="575.9" cy="677.4" r="5.2"/><circle cx="583.7" cy="677" r="5.2"/><circle cx="615.4" cy="680.5" r="5.2"/>
<circle cx="586.4" cy="683.6" r="5.2"/><circle cx="599.9" cy="684" r="5.2"/><circle cx="553.9" cy="688" r="5.2"/><circle cx="622.9" cy="696.3" r="5.2"/><circle cx="555.6" cy="698.5" r="5.2"/><circle cx="532.2" cy="705.8" r="5.2"/>
<circle cx="573.1" cy="704.2" r="5.2"/><circle cx="579.7" cy="707" r="5.2"/><circle cx="565.6" cy="710.4" r="5.2"/><circle cx="556.3" cy="713.5" r="5.2"/><circle cx="583" cy="713.9" r="5.2"/><circle cx="566.8" cy="715.4" r="5.2"/>
<circle cx="554.4" cy="717.9" r="5.2"/><circle cx="574.7" cy="721.6" r="5.2"/><circle cx="579.9" cy="725.3" r="5.2"/><circle cx="558.4" cy="725.3" r="5.2"/><circle cx="568.1" cy="725.9" r="5.2"/><circle cx="583" cy="727.2" r="5.2"/>
<circle cx="540.7" cy="728.4" r="5.2"/><circle cx="586.2" cy="729.7" r="5.2"/><circle cx="549" cy="729.7" r="5.2"/><circle cx="589.9" cy="736.9" r="5.2"/><circle cx="548.8" cy="738.8" r="5.2"/><circle cx="558.4" cy="745.3" r="5.2"/>
<circle cx="586.4" cy="745.9" r="5.2"/><circle cx="586.2" cy="748.4" r="5.2"/><circle cx="616.7" cy="749.2" r="5.2"/><circle cx="549" cy="753.1" r="5.2"/><circle cx="629.8" cy="754" r="5.2"/><circle cx="574.3" cy="757.1" r="5.2"/>
<circle cx="534.5" cy="760.2" r="5.2"/><circle cx="550.7" cy="762.7" r="5.2"/><circle cx="591.8" cy="763.9" r="5.2"/><circle cx="618.5" cy="762.7" r="5.2"/><circle cx="542.6" cy="767.1" r="5.2"/><circle cx="556.9" cy="770.8" r="5.2"/>
<circle cx="559.4" cy="773.3" r="5.2"/><circle cx="573.7" cy="772.7" r="5.2"/><circle cx="551.9" cy="773.9" r="5.2"/><circle cx="637.5" cy="655.3" r="5.2"/><circle cx="649.9" cy="663.4" r="5.2"/><circle cx="636.2" cy="682.7" r="5.2"/>
<circle cx="639.7" cy="724.1" r="5.2"/><circle cx="637.5" cy="727.8" r="5.2"/><circle cx="640.2" cy="738.7" r="5.2"/><circle cx="707.9" cy="722" r="5.2"/><circle cx="708.5" cy="722.6" r="5.2"/><circle cx="732.4" cy="732.2" r="5.2"/>
<circle cx="671.1" cy="749.4" r="5.2"/><circle cx="648.4" cy="755.2" r="5.2"/><circle cx="660.3" cy="762.3" r="5.2"/><circle cx="688.8" cy="760.2" r="5.2"/><circle cx="690.8" cy="765.8" r="5.2"/><circle cx="759.5" cy="761.2" r="5.2"/>
<circle cx="642.8" cy="771" r="5.2"/><circle cx="668.4" cy="780" r="5.2"/><circle cx="669.9" cy="779.3" r="5.2"/><circle cx="674.2" cy="777.5" r="5.2"/><circle cx="679.2" cy="778.5" r="5.2"/><circle cx="704.1" cy="794.9" r="5.2"/>
<circle cx="635.6" cy="795.3" r="5.2"/><circle cx="631.2" cy="795.5" r="5.2"/><circle cx="638.1" cy="806.7" r="5.2"/><circle cx="634.4" cy="810.5" r="5.2"/><circle cx="666.1" cy="856.3" r="5.2"/><circle cx="394.9" cy="776.2" r="5.2"/>
<circle cx="404" cy="778.1" r="5.2"/><circle cx="410.5" cy="778.4" r="5.2"/><circle cx="434.8" cy="777.5" r="5.2"/><circle cx="461" cy="776.9" r="5.2"/><circle cx="447.3" cy="780.6" r="5.2"/><circle cx="451.6" cy="776.2" r="5.2"/>
<circle cx="444.2" cy="784.9" r="5.2"/><circle cx="394" cy="785.6" r="5.2"/><circle cx="393.1" cy="789.3" r="5.2"/><circle cx="399.6" cy="792.1" r="5.2"/><circle cx="382.5" cy="791.2" r="5.2"/><circle cx="383.1" cy="795.5" r="5.2"/>
<circle cx="419.9" cy="783.7" r="5.2"/><circle cx="425.5" cy="788.1" r="5.2"/><circle cx="424.2" cy="790.6" r="5.2"/><circle cx="423.6" cy="793.7" r="5.2"/><circle cx="413" cy="799" r="5.2"/><circle cx="393.4" cy="797.4" r="5.2"/>
<circle cx="439.2" cy="797.4" r="5.2"/><circle cx="442.3" cy="796.8" r="5.2"/><circle cx="451" cy="793" r="5.2"/><circle cx="454.7" cy="794.9" r="5.2"/><circle cx="459.7" cy="797.4" r="5.2"/><circle cx="475.3" cy="794.6" r="5.2"/>
<circle cx="476.8" cy="802.7" r="5.2"/><circle cx="400.6" cy="804.9" r="5.2"/><circle cx="404.3" cy="808" r="5.2"/><circle cx="429.8" cy="803" r="5.2"/><circle cx="422.4" cy="808" r="5.2"/><circle cx="466.6" cy="808" r="5.2"/>
<circle cx="472.2" cy="811.1" r="5.2"/><circle cx="378.8" cy="811.1" r="5.2"/><circle cx="408" cy="813.6" r="5.2"/><circle cx="413.6" cy="813.6" r="5.2"/><circle cx="430.4" cy="816.4" r="5.2"/><circle cx="396.2" cy="818.3" r="5.2"/>
<circle cx="404.9" cy="820.4" r="5.2"/><circle cx="412.4" cy="821.1" r="5.2"/><circle cx="417.4" cy="822.3" r="5.2"/><circle cx="476.5" cy="823.6" r="5.2"/><circle cx="390" cy="832.6" r="5.2"/><circle cx="380" cy="832.9" r="5.2"/>
<circle cx="416.1" cy="832.3" r="5.2"/><circle cx="407.4" cy="840.4" r="5.2"/><circle cx="524.6" cy="785.9" r="5.2"/><circle cx="535.5" cy="784.6" r="5.2"/><circle cx="536.5" cy="784" r="5.2"/><circle cx="535.2" cy="795.8" r="5.2"/>
<circle cx="546.1" cy="801.1" r="5.2"/><circle cx="547.4" cy="801.5" r="5.2"/><circle cx="578.5" cy="780.6" r="5.2"/><circle cx="584.1" cy="780.9" r="5.2"/><circle cx="589.1" cy="780.6" r="5.2"/><circle cx="605.4" cy="781.6" r="5.2"/>
<circle cx="605.6" cy="785.4" r="5.2"/><circle cx="605.4" cy="788.5" r="5.2"/><circle cx="564.8" cy="776.2" r="5.2"/><circle cx="557.9" cy="783.1" r="5.2"/><circle cx="566.7" cy="788.7" r="5.2"/><circle cx="564.8" cy="794.3" r="5.2"/>
<circle cx="553" cy="793.7" r="5.2"/><circle cx="554.8" cy="788.1" r="5.2"/><circle cx="588.8" cy="795.8" r="5.2"/><circle cx="588.5" cy="803.9" r="5.2"/><circle cx="589.1" cy="805.5" r="5.2"/><circle cx="588.8" cy="809.9" r="5.2"/>
<circle cx="572.3" cy="808.9" r="5.2"/><circle cx="578.5" cy="813.6" r="5.2"/><circle cx="585.3" cy="813.6" r="5.2"/><circle cx="594.1" cy="815.5" r="5.2"/><circle cx="592.8" cy="821.7" r="5.2"/><circle cx="607.1" cy="823.6" r="5.2"/>
<circle cx="612.7" cy="829.2" r="5.2"/><circle cx="602.2" cy="831.3" r="5.2"/><circle cx="591.9" cy="837.6" r="5.2"/><circle cx="624.9" cy="806.4" r="5.2"/><circle cx="626.8" cy="816.1" r="5.2"/><circle cx="534.3" cy="803" r="5.2"/>
<circle cx="523.7" cy="808.6" r="5.2"/><circle cx="528" cy="811.1" r="5.2"/><circle cx="542.4" cy="813" r="5.2"/><circle cx="553.6" cy="812.4" r="5.2"/><circle cx="563.5" cy="813" r="5.2"/><circle cx="564.8" cy="817.3" r="5.2"/>
<circle cx="553.6" cy="825.4" r="5.2"/><circle cx="570.4" cy="826.1" r="5.2"/><circle cx="572.3" cy="827.9" r="5.2"/><circle cx="575.4" cy="836.6" r="5.2"/><circle cx="516.8" cy="829.8" r="5.2"/><circle cx="514.3" cy="838.5" r="5.2"/>
<circle cx="406.8" cy="848.8" r="5.2"/><circle cx="406.2" cy="842.9" r="5.2"/><circle cx="380.6" cy="858.4" r="5.2"/><circle cx="379.4" cy="849.1" r="5.2"/><circle cx="418.6" cy="846" r="5.2"/><circle cx="423.6" cy="847.2" r="5.2"/>
<circle cx="425.5" cy="855.9" r="5.2"/><circle cx="419.2" cy="866.5" r="5.2"/><circle cx="414.9" cy="871.5" r="5.2"/><circle cx="419.2" cy="873.4" r="5.2"/><circle cx="428.6" cy="866.5" r="5.2"/><circle cx="428.6" cy="880.9" r="5.2"/>
<circle cx="429.8" cy="884" r="5.2"/><circle cx="434.8" cy="875.3" r="5.2"/><circle cx="439.8" cy="868.4" r="5.2"/><circle cx="447.9" cy="875.9" r="5.2"/><circle cx="457.2" cy="885.8" r="5.2"/><circle cx="462.8" cy="889.6" r="5.2"/>
<circle cx="468.4" cy="890.8" r="5.2"/><circle cx="451.6" cy="874" r="5.2"/><circle cx="454.7" cy="873.4" r="5.2"/><circle cx="586.6" cy="847.2" r="5.2"/><circle cx="608.4" cy="847.2" r="5.2"/><circle cx="613.7" cy="861.2" r="5.2"/>
<circle cx="596.6" cy="859.4" r="5.2"/><circle cx="590.3" cy="863.1" r="5.2"/><circle cx="572.9" cy="854.7" r="5.2"/><circle cx="562.9" cy="853.5" r="5.2"/><circle cx="567.3" cy="862.2" r="5.2"/><circle cx="580.7" cy="865.9" r="5.2"/>
<circle cx="578.5" cy="869" r="5.2"/><circle cx="582.9" cy="868.4" r="5.2"/><circle cx="559.2" cy="872.1" r="5.2"/><circle cx="561.1" cy="870.3" r="5.2"/><circle cx="556.7" cy="880.2" r="5.2"/><circle cx="543.6" cy="880.9" r="5.2"/>
<circle cx="546.1" cy="880.9" r="5.2"/><circle cx="548.6" cy="879.6" r="5.2"/><circle cx="540.5" cy="880.9" r="5.2"/><circle cx="524.3" cy="893.9" r="5.2"/><circle cx="522.4" cy="892.7" r="5.2"/><circle cx="529.9" cy="890.2" r="5.2"/>
<circle cx="508.7" cy="849.1" r="5.2"/><circle cx="544.9" cy="872.1" r="5.2"/><circle cx="548.6" cy="865.9" r="5.2"/>
</g>
<g class="p" id="pts-down" stroke="#4c9020">
<circle cx="341.8" cy="230.8" r="5.2"/><circle cx="142.8" cy="379.8" r="5.2"/><circle cx="95.2" cy="489.5" r="5.2"/><circle cx="250.5" cy="476.8" r="5.2"/><circle cx="384.2" cy="497.8" r="5.2"/><circle cx="327.2" cy="590" r="5.2"/>
<circle cx="382.2" cy="603.2" r="5.2"/><circle cx="394" cy="622" r="5.2"/><circle cx="353" cy="624.5" r="5.2"/><circle cx="252.2" cy="632.5" r="5.2"/><circle cx="370.5" cy="637.8" r="5.2"/><circle cx="390.5" cy="639.8" r="5.2"/>
</g>
<g class="p" id="pts-up" stroke="#df464c">
<circle cx="764.8" cy="381.2" r="5.2"/><circle cx="660.5" cy="507.8" r="5.2"/><circle cx="566.5" cy="525.5" r="5.2"/><circle cx="557.2" cy="535" r="5.2"/><circle cx="604.5" cy="535.2" r="5.2"/><circle cx="643.8" cy="580.8" r="5.2"/>
<circle cx="830.8" cy="622.5" r="5.2"/>
</g>
<line x1="438.3" y1="933" x2="438.3" y2="197.6" stroke="#74a0ed" stroke-opacity="0.62" stroke-width="3.45" stroke-dasharray="24.6 10.59" fill="none"/>
<line x1="556.3" y1="933" x2="556.3" y2="197.6" stroke="#74a0ed" stroke-opacity="0.62" stroke-width="3.45" stroke-dasharray="24.6 10.59" fill="none"/>
<line x1="53.8" y1="645.9" x2="940.6" y2="645.9" stroke="#74a0ed" stroke-opacity="0.62" stroke-width="3.45" stroke-dasharray="24.6 10.59" fill="none"/>
<line x1="53.8" y1="198" x2="941.2" y2="198" stroke="#6b6b6b" stroke-width="2"/>
<line x1="940.45" y1="197" x2="940.45" y2="934" stroke="#444" stroke-width="1.5"/>
<path d="M53.8 197.6 V933 H940.6" fill="none" stroke="#000" stroke-width="2.1" stroke-linecap="square"/>
<line x1="93.7" y1="933" x2="93.7" y2="938.5" stroke="#1a1a1a" stroke-width="2"/>
<text class="tick" x="93.7" y="956.3" text-anchor="middle">−4</text>
<line x1="295.5" y1="933" x2="295.5" y2="938.5" stroke="#1a1a1a" stroke-width="2"/>
<text class="tick" x="295.5" y="956.3" text-anchor="middle">−2</text>
<line x1="497.3" y1="933" x2="497.3" y2="938.5" stroke="#1a1a1a" stroke-width="2"/>
<text class="tick" x="497.3" y="956.3" text-anchor="middle">0</text>
<line x1="699.1" y1="933" x2="699.1" y2="938.5" stroke="#1a1a1a" stroke-width="2"/>
<text class="tick" x="699.1" y="956.3" text-anchor="middle">2</text>
<line x1="900.9" y1="933" x2="900.9" y2="938.5" stroke="#1a1a1a" stroke-width="2"/>
<text class="tick" x="900.9" y="956.3" text-anchor="middle">4</text>
<line x1="48.3" y1="899.5" x2="53.8" y2="899.5" stroke="#1a1a1a" stroke-width="2"/>
<text class="tick" x="43" y="905.8" text-anchor="end">0</text>
<line x1="48.3" y1="704.6" x2="53.8" y2="704.6" stroke="#1a1a1a" stroke-width="2"/>
<text class="tick" x="43" y="710.9" text-anchor="end">1</text>
<line x1="48.3" y1="509.7" x2="53.8" y2="509.7" stroke="#1a1a1a" stroke-width="2"/>
<text class="tick" x="43" y="516" text-anchor="end">2</text>
<line x1="48.3" y1="314.8" x2="53.8" y2="314.8" stroke="#1a1a1a" stroke-width="2"/>
<text class="tick" x="43" y="321.1" text-anchor="end">3</text>
<text class="axt" x="497.2" y="985.3" text-anchor="middle">log2FC</text>
<text class="axt" transform="translate(21.9 565) rotate(-90)" text-anchor="middle">−log10(pvalue)</text>
<text class="axt" x="975" y="514.6">Class</text>
<circle cx="992.7" cy="548.6" r="5.2" fill="none" stroke="#4c9020" stroke-width="1.5" stroke-opacity="0.88"/>
<text class="leg" x="1024.2" y="556.5">Down</text>
<circle cx="992.7" cy="584.1" r="5.2" fill="none" stroke="#8b7d6b" stroke-width="1.5" stroke-opacity="0.88"/>
<text class="leg" x="1024.2" y="592">None</text>
<circle cx="992.7" cy="619.6" r="5.2" fill="none" stroke="#df464c" stroke-width="1.5" stroke-opacity="0.88"/>
<text class="leg" x="1024.2" y="627.5">Up</text>
</g>
<g id="heatmap">
<text x="1659.9" y="113.6" text-anchor="middle" font-size="28.6" letter-spacing="0.43" font-weight="bold" fill="#000">Hierarchical Clustering of DEPs(union)</text>
<path d="M1365.8 151.7H1358.9V202.3H1365.8M1365.8 252.8H1364.6V303.4H1365.8M1365.8 404.5H1364.9V455.1H1365.8M1365.8 354.0H1361.2V429.8H1364.9M1364.6 278.1H1355.5V391.9H1361.2M1358.9 177.0H1337.7V335.0H1355.5M1365.8 556.2H1364.4V606.8H1365.8M1365.8 505.7H1359.4V581.5H1364.4M1365.8 657.4H1365.3V708.0H1365.8M1365.8 809.1H1365.3V859.7H1365.8M1365.8 910.2H1365.3V960.8H1365.8M1365.3 834.4H1364.6V935.5H1365.3M1365.8 758.5H1363.5V885.0H1364.6M1365.8 1061.9H1364.6V1112.5H1365.8M1365.8 1011.4H1363.0V1087.2H1364.6M1363.5 821.7H1358.9V1049.3H1363.0M1365.3 682.7H1351.4V935.5H1358.9M1359.4 543.6H1333.9V809.1H1351.4M1337.7 256.0H1288.7V676.3H1333.9" fill="none" stroke="#111" stroke-width="1.3" stroke-linejoin="miter"/>
<rect x="1365.8" y="126.40" width="587.2" height="50.87" fill="#e64246"/>
<rect x="1365.8" y="176.97" width="587.2" height="50.87" fill="#e3191c"/>
<rect x="1365.8" y="227.54" width="587.2" height="50.87" fill="#ef8284"/>
<rect x="1365.8" y="278.11" width="587.2" height="50.87" fill="#f08b8c"/>
<rect x="1365.8" y="328.68" width="587.2" height="50.87" fill="#f3a2a3"/>
<rect x="1365.8" y="379.25" width="587.2" height="50.87" fill="#f5b9b9"/>
<rect x="1365.8" y="429.82" width="587.2" height="50.87" fill="#f5bfbf"/>
<rect x="1365.8" y="480.39" width="587.2" height="50.87" fill="#5b93c5"/>
<rect x="1365.8" y="530.96" width="587.2" height="50.87" fill="#377cb8"/>
<rect x="1365.8" y="581.53" width="587.2" height="50.87" fill="#4182bb"/>
<rect x="1365.8" y="632.10" width="587.2" height="50.87" fill="#94b8da"/>
<rect x="1365.8" y="682.67" width="587.2" height="50.87" fill="#92b6d9"/>
<rect x="1365.8" y="733.24" width="587.2" height="50.87" fill="#d0e0f0"/>
<rect x="1365.8" y="783.81" width="587.2" height="50.87" fill="#d6e3f1"/>
<rect x="1365.8" y="834.38" width="587.2" height="50.87" fill="#d8e5f2"/>
<rect x="1365.8" y="884.95" width="587.2" height="50.87" fill="#dce7f3"/>
<rect x="1365.8" y="935.52" width="587.2" height="50.87" fill="#dce8f3"/>
<rect x="1365.8" y="986.09" width="587.2" height="50.87" fill="#bad1e7"/>
<rect x="1365.8" y="1036.66" width="587.2" height="50.87" fill="#c1d6ea"/>
<rect x="1365.8" y="1087.23" width="587.2" height="50.87" fill="#c7daec"/>
<defs><linearGradient id="cbg" x1="0" y1="0" x2="0" y2="1"><stop offset="0" stop-color="#e6474b"/><stop offset="0.5" stop-color="#ffffff"/><stop offset="1" stop-color="#6a9dcb"/></linearGradient></defs>
<rect x="1960.8" y="126.4" width="14.7" height="220.8" fill="url(#cbg)"/>
<text class="cb" x="1981" y="144.4">3</text>
<text class="cb" x="1981" y="173.8">2</text>
<text class="cb" x="1981" y="203.1">1</text>
<text class="cb" x="1981" y="232.5">0</text>
<text class="cb" x="1981" y="261.8">−1</text>
<text class="cb" x="1981" y="291.2">−2</text>
<text class="cb" x="1981" y="320.6">−3</text>
<text class="cb" x="1981" y="349.9">−4</text>
</g>
</svg>
</body>
</html>
